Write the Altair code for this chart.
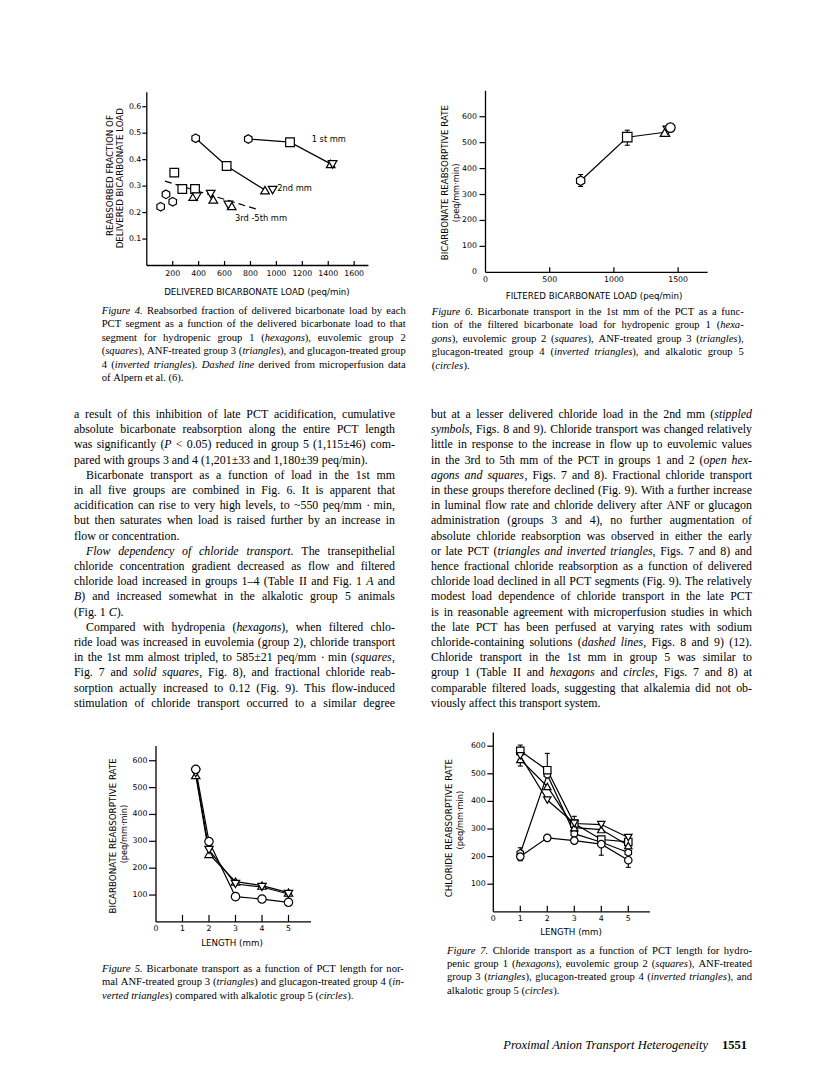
import altair as alt
import pandas as pd

OX, OY = 8, 8  # page margin of the browser
SANS = "DejaVu Sans"
SERIF = "Liberation Serif"

HEX = "M0,-1L0.87,-0.5L0.87,0.5L0,1L-0.87,0.5L-0.87,-0.5Z"
SHAPE_DOMAIN = ["hexagon", "square", "triangle", "inverted", "circle"]
SHAPE_RANGE = [HEX, "square", "triangle-up", "triangle-down", "circle"]

# ---------------- Figure 4 data ----------------
f4_first_x = [783, 1105, 1419, 1434]
f4_first_y = [0.478, 0.466, 0.384, 0.382]
f4_first_shape = ["hexagon", "square", "triangle", "inverted"]
f4_second_x = [377, 616, 912, 971]
f4_second_y = [0.481, 0.376, 0.285, 0.285]
f4_second_shape = ["hexagon", "square", "triangle", "inverted"]
f4_late_x = [107, 148, 200, 212, 274, 372, 358, 513, 655, 385, 493, 629]
f4_late_y = [0.222, 0.269, 0.241, 0.351, 0.289, 0.289, 0.260, 0.250, 0.225, 0.260, 0.270, 0.229]
f4_late_shape = ["hexagon"] * 3 + ["square"] * 3 + ["triangle"] * 3 + ["inverted"] * 3
f4_dash_x = [140, 853]
f4_dash_y = [0.319, 0.212]
f4_note_text = ["1 st mm", "2nd mm", "3rd -5th mm"]
f4_note_x = [1272, 1007, 680]
f4_note_y = [0.474, 0.288, 0.176]
f4_xticks = [200, 400, 600, 800, 1000, 1200, 1400, 1600]
f4_xlabels = ["200", "400", "600", "800", "1000", "1200", "1400", "1600"]
f4_yticks = [0.1, 0.2, 0.3, 0.4, 0.5, 0.6]
f4_ylabels = ["0.1", "0.2", "0.3", "0.4", "0.5", "0.6"]
f4_xtitle = "DELIVERED BICARBONATE LOAD  (peq/min)"
f4_ytitle = ["REABSORBED FRACTION OF", "DELIVERED BICARBONATE LOAD"]

# ---------------- Figure 6 data ----------------
f6_x = [741, 1104, 1398, 1420, 1440]
f6_y = [353, 521, 540, 548, 558]
f6_shape = ["hexagon", "square", "triangle", "inverted", "circle"]
f6_err_x = [741, 1104]
f6_err_lo = [331, 490]
f6_err_hi = [377, 548]
f6_xticks = [500, 1000, 1500]
f6_xlabel_vals = [0, 500, 1000, 1500]
f6_xlabels = ["0", "500", "1000", "1500"]
f6_yticks = [100, 200, 300, 400, 500, 600]
f6_ylabel_vals = [0, 100, 200, 300, 400, 500, 600]
f6_ylabels = ["0", "100", "200", "300", "400", "500", "600"]
f6_xtitle = "FILTERED BICARBONATE LOAD  (peq/min)"
f6_ytitle = ["BICARBONATE REABSORPTIVE RATE", "(peq/mm\u00b7min)"]

# ---------------- Figure 5 data ----------------
f5_len = [1.5, 2, 3, 4, 5]
f5_circle = [568, 299, 94, 85, 73]
f5_triangle = [547, 253, 150, 135, 109]
f5_inverted = [554, 268, 141, 130, 104]
f5_xticks = [1, 2, 3, 4, 5]
f5_xlabel_vals = [0, 1, 2, 3, 4, 5]
f5_xlabels = ["0", "1", "2", "3", "4", "5"]
f5_yticks = [100, 200, 300, 400, 500, 600]
f5_ylabels = ["100", "200", "300", "400", "500", "600"]
f5_xtitle = "LENGTH  (mm)"
f5_ytitle = ["BICARBONATE REABSORPTIVE RATE", "(peq/mm\u00b7min)"]

# ---------------- Figure 7 data ----------------
f7_len = [1, 2, 3, 4, 5]
f7_hexagon = [212, 497, 283, 252, 215]
f7_square = [583, 513, 320, 262, 253]
f7_triangle = [552, 454, 305, 298, 240]
f7_inverted = [565, 405, 320, 316, 269]
f7_circle = [200, 268, 258, 245, 187]
f7_err_len = [1, 1, 1, 2, 3, 4, 4, 5, 5]
f7_err_lo = [583, 528, 185, 513, 320, 316, 205, 269, 161]
f7_err_hi = [604, 552, 232, 574, 346, 323, 250, 273, 187]
f7_xtitle = "LENGTH  (mm)"
f7_ytitle = ["CHLORIDE REABSORPTIVE RATE", "(peq/mm\u00b7min)"]

# ---------------- Text (italic spans marked with *...*) ----------------
cap4 = [
    "*Figure 4.* Reabsorbed fraction of delivered bicarbonate load by each",
    "PCT segment as a function of the delivered bicarbonate load to that",
    "segment for hydropenic group 1 (*hexagons*), euvolemic group 2",
    "(*squares*), ANF-treated group 3 (*triangles*), and glucagon-treated group",
    "4 (*inverted triangles*). *Dashed line* derived from microperfusion data",
    "of Alpern et al. (6).",
]
cap6 = [
    "*Figure 6.* Bicarbonate transport in the 1st mm of the PCT as a func-",
    "tion of the filtered bicarbonate load for hydropenic group 1 (*hexa-*",
    "*gons*), euvolemic group 2 (*squares*), ANF-treated group 3 (*triangles*),",
    "glucagon-treated group 4 (*inverted triangles*), and alkalotic group 5",
    "(*circles*).",
]
cap5 = [
    "*Figure 5.* Bicarbonate transport as a function of PCT length for nor-",
    "mal ANF-treated group 3 (*triangles*) and glucagon-treated group 4 (*in-*",
    "*verted triangles*) compared with alkalotic group 5 (*circles*).",
]
cap7 = [
    "*Figure 7.* Chloride transport as a function of PCT length for hydro-",
    "penic group 1 (*hexagons*), euvolemic group 2 (*squares*), ANF-treated",
    "group 3 (*triangles*), glucagon-treated group 4 (*inverted triangles*), and",
    "alkalotic group 5 (*circles*).",
]
body_left = [
    "a result of this inhibition of late PCT acidification, cumulative",
    "absolute bicarbonate reabsorption along the entire PCT length",
    "was significantly (*P* < 0.05) reduced in group 5 (1,115\u00b146) com-",
    "pared with groups 3 and 4 (1,201\u00b133 and 1,180\u00b139 peq/min).",
    "Bicarbonate transport as a function of load in the 1st mm",
    "in all five groups are combined in Fig. 6. It is apparent that",
    "acidification can rise to very high levels, to ~550 peq/mm \u00b7 min,",
    "but then saturates when load is raised further by an increase in",
    "flow or concentration.",
    "*Flow dependency of chloride transport.* The transepithelial",
    "chloride concentration gradient decreased as flow and filtered",
    "chloride load increased in groups 1\u20134 (Table II and Fig. 1 *A* and",
    "*B*) and increased somewhat in the alkalotic group 5 animals",
    "(Fig. 1 *C*).",
    "Compared with hydropenia (*hexagons*), when filtered chlo-",
    "ride load was increased in euvolemia (group 2), chloride transport",
    "in the 1st mm almost tripled, to 585\u00b121 peq/mm \u00b7 min (*squares*,",
    "Fig. 7 and *solid squares*, Fig. 8), and fractional chloride reab-",
    "sorption actually increased to 0.12 (Fig. 9). This flow-induced",
    "stimulation of chloride transport occurred to a similar degree",
]
body_left_para_starts = [4, 9, 14]
body_left_para_ends = [3, 8, 13]
body_right = [
    "but at a lesser delivered chloride load in the 2nd mm (*stippled*",
    "*symbols*, Figs. 8 and 9). Chloride transport was changed relatively",
    "little in response to the increase in flow up to euvolemic values",
    "in the 3rd to 5th mm of the PCT in groups 1 and 2 (*open hex-*",
    "*agons and squares*, Figs. 7 and 8). Fractional chloride transport",
    "in these groups therefore declined (Fig. 9). With a further increase",
    "in luminal flow rate and chloride delivery after ANF or glucagon",
    "administration (groups 3 and 4), no further augmentation of",
    "absolute chloride reabsorption was observed in either the early",
    "or late PCT (*triangles and inverted triangles*, Figs. 7 and 8) and",
    "hence fractional chloride reabsorption as a function of delivered",
    "chloride load declined in all PCT segments (Fig. 9). The relatively",
    "modest load dependence of chloride transport in the late PCT",
    "is in reasonable agreement with microperfusion studies in which",
    "the late PCT has been perfused at varying rates with sodium",
    "chloride-containing solutions (*dashed lines*, Figs. 8 and 9) (12).",
    "Chloride transport in the 1st mm in group 5 was similar to",
    "group 1 (Table II and *hexagons* and *circles*, Figs. 7 and 8) at",
    "comparable filtered loads, suggesting that alkalemia did not ob-",
    "viously affect this transport system.",
]
footer_title = "Proximal Anion Transport Heterogeneity"
footer_page = "1551"

# ---------------- Times-compatible glyph widths (1/1000 em) ----------------
_R = {}
for ch, w in zip("abcdefghijklmnopqrstuvwxyz",
                 [444, 500, 444, 500, 444, 333, 500, 500, 278, 278, 500, 278, 778,
                  500, 500, 500, 500, 333, 389, 278, 500, 500, 722, 500, 500, 444]):
    _R[ch] = w
for ch, w in zip("ABCDEFGHIJKLMNOPQRSTUVWXYZ",
                 [722, 667, 667, 722, 611, 556, 722, 722, 333, 389, 722, 611, 889,
                  722, 722, 556, 722, 667, 556, 611, 722, 722, 944, 722, 722, 611]):
    _R[ch] = w
_I = {}
for ch, w in zip("abcdefghijklmnopqrstuvwxyz",
                 [500, 500, 444, 500, 444, 278, 500, 500, 278, 278, 444, 278, 722,
                  500, 500, 500, 500, 389, 389, 278, 500, 444, 667, 444, 444, 389]):
    _I[ch] = w
for ch, w in zip("ABCDEFGHIJKLMNOPQRSTUVWXYZ",
                 [611, 611, 667, 722, 611, 611, 722, 722, 333, 444, 667, 556, 833,
                  667, 722, 611, 722, 611, 500, 556, 722, 611, 833, 611, 556, 556]):
    _I[ch] = w
_P = {" ": 250, ".": 250, ",": 250, "(": 333, ")": 333, "-": 333, ":": 278, ";": 278,
      "\u00b1": 564, "\u00b7": 250, "~": 541, "<": 564, ">": 564, "\u2013": 500, "/": 278}
for d in "0123456789":
    _P[d] = 500


def text_width(s, italic, size):
    table = _I if italic else _R
    return sum(table.get(c, _P.get(c, 500)) for c in s) * size / 1000.0


def parse_words(line):
    words, cur, italic, seg = [], [], False, ""
    for ch in line:
        if ch == "*":
            if seg:
                cur.append((seg, italic))
                seg = ""
            italic = not italic
        elif ch == " ":
            if seg:
                cur.append((seg, italic))
                seg = ""
            if cur:
                words.append(cur)
                cur = []
        else:
            seg += ch
    if seg:
        cur.append((seg, italic))
    if cur:
        words.append(cur)
    return words


def layout_lines(lines, size, width, indents=(), ragged=()):
    """Justify each line to the column width; returns (row, x_offset, text, italic)."""
    out = []
    for r, line in enumerate(lines):
        words = parse_words(line)
        ind = 12 if r in indents else 0
        wlens = [sum(text_width(t, it, size) for t, it in w) for w in words]
        natural = sum(wlens)
        space = 0.25 * size
        if r not in ragged and len(words) > 1:
            space = max((width - ind - natural) / (len(words) - 1), 0.15 * size)
        x = ind
        for w, wl in zip(words, wlens):
            sx = x
            for t, it in w:
                out.append((r, sx, t, it))
                sx += text_width(t, it, size)
            x += wl + space
    return out


# ---------------- helpers ----------------
def lin(dom, origin, per_unit, vertical=False):
    span = (dom[1] - dom[0]) * per_unit
    if vertical:
        rng = [origin - OY, origin - span - OY]
    else:
        rng = [origin - OX, origin + span - OX]
    return alt.Scale(domain=dom, range=rng, nice=False, zero=False)


def frame(xs, ys, xdom, ydom, xticks, xlab_vals, xlabs, yticks, ylab_vals, ylabs,
          xtl, ytl, xlab_dy, ylab_dx, xtitle, xt_pos, xt_dy, ytitles, fs=7.8, tfs=8.7):
    X = lambda f: alt.X(f, scale=xs, axis=None)
    Y = lambda f: alt.Y(f, scale=ys, axis=None)
    L = []
    L.append(alt.Chart(pd.DataFrame({"x": [xdom[0]], "x2": [xdom[1]], "y": [ydom[0]]}))
             .mark_rule(color="black", strokeWidth=1.3)
             .encode(x=X("x:Q"), x2="x2:Q", y=Y("y:Q")))
    L.append(alt.Chart(pd.DataFrame({"x": [xdom[0]], "y": [ydom[0]], "y2": [ydom[1]]}))
             .mark_rule(color="black", strokeWidth=1.3)
             .encode(x=X("x:Q"), y=Y("y:Q"), y2="y2:Q"))
    L.append(alt.Chart(pd.DataFrame({"x": xticks, "y": [ydom[0]] * len(xticks)}))
             .mark_tick(orient="vertical", size=xtl, thickness=1.2, color="black",
                        yOffset=-xtl / 2, opacity=1)
             .encode(x=X("x:Q"), y=Y("y:Q")))
    L.append(alt.Chart(pd.DataFrame({"x": [xdom[0]] * len(yticks), "y": yticks}))
             .mark_tick(orient="horizontal", size=ytl, thickness=1.2, color="black",
                        xOffset=-ytl / 2, opacity=1)
             .encode(x=X("x:Q"), y=Y("y:Q")))
    L.append(alt.Chart(pd.DataFrame({"x": xlab_vals, "y": [ydom[0]] * len(xlab_vals), "t": xlabs}))
             .mark_text(font=SANS, fontSize=fs, baseline="middle", align="center",
                        dy=xlab_dy, color="black")
             .encode(x=X("x:Q"), y=Y("y:Q"), text="t:N"))
    L.append(alt.Chart(pd.DataFrame({"x": [xdom[0]] * len(ylab_vals), "y": ylab_vals, "t": ylabs}))
             .mark_text(font=SANS, fontSize=fs, baseline="middle", align="right",
                        dx=ylab_dx, color="black")
             .encode(x=X("x:Q"), y=Y("y:Q"), text="t:N"))
    L.append(alt.Chart(pd.DataFrame({"x": [xt_pos], "y": [ydom[0]], "t": [xtitle]}))
             .mark_text(font=SANS, fontSize=tfs, baseline="middle", align="center",
                        dy=xt_dy, color="black")
             .encode(x=X("x:Q"), y=Y("y:Q"), text="t:N"))
    for text, ypos, xoff, size in ytitles:
        L.append(alt.Chart(pd.DataFrame({"x": [xdom[0]], "y": [ypos], "t": [text]}))
                 .mark_text(font=SANS, fontSize=size, baseline="middle", align="center",
                            angle=270, xOffset=xoff, color="black")
                 .encode(x=X("x:Q"), y=Y("y:Q"), text="t:N"))
    return L


def points(df, xs, ys, size):
    return (alt.Chart(df)
            .mark_point(fill="white", stroke="black", strokeWidth=1.2, size=size,
                        opacity=1, fillOpacity=1, filled=True)
            .encode(x=alt.X("x:Q", scale=xs, axis=None),
                    y=alt.Y("y:Q", scale=ys, axis=None),
                    shape=alt.Shape("s:N", scale=alt.Scale(domain=SHAPE_DOMAIN, range=SHAPE_RANGE),
                                    legend=None)))


def lines(df, xs, ys, dash=None):
    kw = dict(color="black", strokeWidth=1.2)
    if dash:
        kw["strokeDash"] = dash
    return (alt.Chart(df).mark_line(**kw)
            .encode(x=alt.X("x:Q", scale=xs, axis=None),
                    y=alt.Y("y:Q", scale=ys, axis=None),
                    detail="g:N", order="x:Q"))


def errbars(df, xs, ys, cap):
    X = alt.X("x:Q", scale=xs, axis=None)
    r = (alt.Chart(df).mark_rule(color="black", strokeWidth=1.1)
         .encode(x=X, y=alt.Y("lo:Q", scale=ys, axis=None), y2="hi:Q"))
    t1 = (alt.Chart(df).mark_tick(orient="horizontal", size=cap, thickness=1.1, color="black", opacity=1)
          .encode(x=X, y=alt.Y("hi:Q", scale=ys, axis=None)))
    t2 = (alt.Chart(df).mark_tick(orient="horizontal", size=cap, thickness=1.1, color="black", opacity=1)
          .encode(x=X, y=alt.Y("lo:Q", scale=ys, axis=None)))
    return [r, t1, t2]


# ---------------- Figure 4 ----------------
f4_xdom, f4_ydom = [0, 1710], [0, 0.655]
f4_xs = lin(f4_xdom, 146.8, 0.1296)
f4_ys = lin(f4_ydom, 265.5, 264.6, vertical=True)
f4_pts = pd.DataFrame({
    "x": f4_first_x + f4_second_x + f4_late_x,
    "y": f4_first_y + f4_second_y + f4_late_y,
    "s": f4_first_shape + f4_second_shape + f4_late_shape,
})
f4_lines = pd.DataFrame({
    "x": f4_first_x[:3] + f4_second_x[:3],
    "y": f4_first_y[:3] + f4_second_y[:3],
    "g": ["first"] * 3 + ["second"] * 3,
})
f4_dash = pd.DataFrame({"x": f4_dash_x, "y": f4_dash_y, "g": ["late"] * 2})
f4_notes = pd.DataFrame({"x": f4_note_x, "y": f4_note_y, "t": f4_note_text})
fig4 = alt.layer(
    *frame(f4_xs, f4_ys, f4_xdom, f4_ydom, f4_xticks, f4_xticks, f4_xlabels,
           f4_yticks, f4_yticks, f4_ylabels, 4.5, 4.5, 8, -5.5,
           f4_xtitle, 850, 26.5,
           [(f4_ytitle[0], 0.34, -37, 8.7), (f4_ytitle[1], 0.33, -27, 8.7)]),
    lines(f4_lines, f4_xs, f4_ys),
    lines(f4_dash, f4_xs, f4_ys, dash=[7, 4]),
    points(f4_pts, f4_xs, f4_ys, 75),
    alt.Chart(f4_notes).mark_text(font=SANS, fontSize=8.3, align="left", baseline="middle", color="black")
    .encode(x=alt.X("x:Q", scale=f4_xs, axis=None), y=alt.Y("y:Q", scale=f4_ys, axis=None), text="t:N"),
)

# ---------------- Figure 6 ----------------
f6_xdom, f6_ydom = [0, 1730], [0, 700]
f6_xs = lin(f6_xdom, 485.5, 0.1284)
f6_ys = lin(f6_ydom, 272.3, 0.2593, vertical=True)
f6_pts = pd.DataFrame({"x": f6_x, "y": f6_y, "s": f6_shape})
f6_lines = pd.DataFrame({"x": f6_x[:3], "y": f6_y[:3], "g": ["a"] * 3})
f6_err = pd.DataFrame({"x": f6_err_x, "lo": f6_err_lo, "hi": f6_err_hi})
fig6 = alt.layer(
    *frame(f6_xs, f6_ys, f6_xdom, f6_ydom, f6_xticks, f6_xlabel_vals, f6_xlabels,
           f6_yticks, f6_ylabel_vals, f6_ylabels, 5, 6, 7.5, -8.5,
           f6_xtitle, 845, 23.5,
           [(f6_ytitle[0], 346, -40.5, 8.7), (f6_ytitle[1], 306, -29, 8.2)]),
    *errbars(f6_err, f6_xs, f6_ys, 5),
    lines(f6_lines, f6_xs, f6_ys),
    points(f6_pts, f6_xs, f6_ys, 90),
)

# ---------------- Figure 5 ----------------
f5_xdom, f5_ydom = [0, 5.85], [0, 655]
f5_xs = lin(f5_xdom, 156, 26.5)
f5_ys = lin(f5_ydom, 921.9, 0.2686, vertical=True)
f5_pts = pd.DataFrame({
    "x": f5_len * 3,
    "y": f5_triangle + f5_inverted + f5_circle,
    "s": ["triangle"] * 5 + ["inverted"] * 5 + ["circle"] * 5,
})
f5_lines = f5_pts.rename(columns={"s": "g"})
fig5 = alt.layer(
    *frame(f5_xs, f5_ys, f5_xdom, f5_ydom, f5_xticks, f5_xlabel_vals, f5_xlabels,
           f5_yticks, f5_yticks, f5_ylabels, 7, 7, 7, -8.5,
           f5_xtitle, 2.87, 21.5,
           [(f5_ytitle[0], 320, -43.5, 8.7), (f5_ytitle[1], 327, -31, 8.2)]),
    lines(f5_lines, f5_xs, f5_ys),
    points(f5_pts, f5_xs, f5_ys, 70),
)

# ---------------- Figure 7 ----------------
f7_xdom, f7_ydom = [0, 5.8], [0, 650]
f7_xs = lin(f7_xdom, 493.3, 27)
f7_ys = lin(f7_ydom, 911.8, 0.276, vertical=True)
f7_pts = pd.DataFrame({
    "x": f7_len * 5,
    "y": f7_hexagon + f7_square + f7_triangle + f7_inverted + f7_circle,
    "s": ["hexagon"] * 5 + ["square"] * 5 + ["triangle"] * 5 + ["inverted"] * 5 + ["circle"] * 5,
})
f7_lines = f7_pts.rename(columns={"s": "g"})
f7_err = pd.DataFrame({"x": f7_err_len, "lo": f7_err_lo, "hi": f7_err_hi})
fig7 = alt.layer(
    *frame(f7_xs, f7_ys, f7_xdom, f7_ydom, f5_xticks, f5_xlabel_vals, f5_xlabels,
           f5_yticks, f5_yticks, f5_ylabels, 6, 6, 7.5, -7.5,
           f7_xtitle, 2.88, 20,
           [(f7_ytitle[0], 303, -44, 8.7), (f7_ytitle[1], 332, -32.5, 8.2)]),
    *errbars(f7_err, f7_xs, f7_ys, 5),
    lines(f7_lines, f7_xs, f7_ys),
    points(f7_pts, f7_xs, f7_ys, 55),
)


# ---------------- text blocks ----------------
def text_block(rows, x0, y0, lead, size, span=400):
    """rows: list of (row_index, x_offset_px, text, italic)"""
    df = pd.DataFrame(rows, columns=["row", "off", "t", "it"])
    xs = alt.Scale(domain=[0, span], range=[x0 - OX, x0 - OX + span], nice=False, zero=False)
    ys = alt.Scale(domain=[0, 20], range=[y0 - OY, y0 - OY + 20 * lead], nice=False, zero=False)
    layers = []
    for it in [False, True]:
        sub = df[df["it"] == it]
        if len(sub) == 0:
            continue
        layers.append(
            alt.Chart(sub).mark_text(font=SERIF, fontSize=size, align="left", baseline="middle",
                                     color="black", fontStyle="italic" if it else "normal")
            .encode(x=alt.X("off:Q", scale=xs, axis=None),
                    y=alt.Y("row:Q", scale=ys, axis=None), text="t:N"))
    return alt.layer(*layers)


CAP_FS, CAP_LEAD = 10.6, 13.4
BODY_FS, BODY_LEAD = 11.9, 15.2

cap4_block = text_block(layout_lines(cap4, CAP_FS, 304, ragged=[len(cap4) - 1]),
                        101.7, 311, CAP_LEAD, CAP_FS)
cap6_block = text_block(layout_lines(cap6, CAP_FS, 312, ragged=[len(cap6) - 1]),
                        431.7, 312, CAP_LEAD, CAP_FS)
cap5_block = text_block(layout_lines(cap5, CAP_FS, 302, ragged=[len(cap5) - 1]),
                        102, 969, CAP_LEAD, CAP_FS)
cap7_block = text_block(layout_lines(cap7, CAP_FS, 305, ragged=[len(cap7) - 1]),
                        447, 950.5, CAP_LEAD, CAP_FS)

body_left_block = text_block(
    layout_lines(body_left, BODY_FS, 321, indents=body_left_para_starts, ragged=body_left_para_ends),
    74, 414, BODY_LEAD, BODY_FS)
body_right_block = text_block(
    layout_lines(body_right, BODY_FS, 321, ragged=[len(body_right) - 1]),
    431, 414, BODY_LEAD, BODY_FS)

footer = alt.layer(
    alt.Chart(pd.DataFrame({"t": [footer_title]})).mark_text(
        font=SERIF, fontSize=12.5, fontStyle="italic", align="right", baseline="middle", color="black")
    .encode(x=alt.value(708 - OX), y=alt.value(1045 - OY), text="t:N"),
    alt.Chart(pd.DataFrame({"t": [footer_page]})).mark_text(
        font=SERIF, fontSize=12.5, fontWeight="bold", align="left", baseline="middle", color="black")
    .encode(x=alt.value(722 - OX), y=alt.value(1045 - OY), text="t:N"),
)

chart = (
    alt.layer(fig4, fig6, fig5, fig7, cap4_block, cap6_block, body_left_block,
              body_right_block, cap5_block, cap7_block, footer)
    .resolve_scale(x="independent", y="independent")
    .properties(width=800, height=1058, padding=0,
                autosize=alt.AutoSizeParams(type="none"), background="white")
    .configure_view(stroke=None)
)

chart.save("out.html", embed_options={"renderer": "svg", "actions": False})
